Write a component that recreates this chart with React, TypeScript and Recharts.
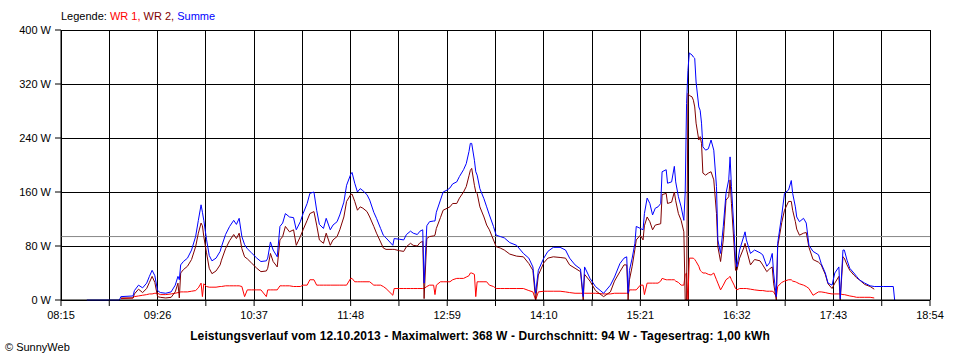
import {
  CartesianGrid,
  Line,
  LineChart,
  ReferenceLine,
  XAxis,
  YAxis,
} from "recharts";

// Zeitpunkte der Messwerte (hh:mm)
const times = [
  "08:34", "08:58", "08:59", "09:08", "09:09", "09:12", "09:15", "09:18", "09:20", "09:22",
  "09:24", "09:26", "09:28", "09:32", "09:36", "09:39", "09:41", "09:42", "09:43", "09:45",
  "09:48", "09:51", "09:54", "09:56", "09:58", "09:59", "10:00", "10:02", "10:04", "10:06",
  "10:09", "10:12", "10:13", "10:16", "10:19", "10:22", "10:24", "10:26", "10:28", "10:30",
  "10:32", "10:35", "10:39", "10:42", "10:46", "10:47", "10:49", "10:51", "10:54", "10:56",
  "10:58", "11:00", "11:03", "11:06", "11:08", "11:11", "11:13", "11:16", "11:18", "11:21",
  "11:23", "11:25", "11:28", "11:30", "11:33", "11:35", "11:38", "11:40", "11:43", "11:45",
  "11:48", "11:49", "11:51", "11:53", "11:55", "11:57", "12:00", "12:02", "12:05", "12:07",
  "12:10", "12:12", "12:14", "12:19", "12:20", "12:24", "12:27", "12:29", "12:32", "12:34",
  "12:37", "12:39", "12:41", "12:42", "12:44", "12:46", "12:49", "12:50", "12:51", "12:54",
  "12:56", "12:59", "13:01", "13:03", "13:06", "13:08", "13:11", "13:13", "13:15", "13:16",
  "13:17", "13:19", "13:20", "13:21", "13:23", "13:26", "13:28", "13:30", "13:33", "13:35",
  "13:38", "13:41", "13:45", "13:50", "13:55", "13:59", "14:02", "14:04", "14:06", "14:10",
  "14:13", "14:17", "14:22", "14:26", "14:29", "14:33", "14:37", "14:39", "14:40", "14:44",
  "14:48", "14:54", "14:59", "15:02", "15:06", "15:09", "15:11", "15:12", "15:13", "15:15",
  "15:17", "15:18", "15:21", "15:23", "15:24", "15:26", "15:28", "15:30", "15:32", "15:34",
  "15:36", "15:37", "15:40", "15:41", "15:44", "15:46", "15:47", "15:49", "15:51", "15:53",
  "15:54", "15:55", "15:56", "15:57", "15:59", "16:00", "16:01", "16:02", "16:04", "16:05",
  "16:06", "16:07", "16:09", "16:11", "16:13", "16:15", "16:17", "16:18", "16:20", "16:22",
  "16:24", "16:26", "16:27", "16:28", "16:30", "16:31", "16:32", "16:34", "16:37", "16:38",
  "16:39", "16:42", "16:45", "16:49", "16:51", "16:54", "16:56", "16:58", "16:59", "17:01",
  "17:02", "17:05", "17:07", "17:10", "17:12", "17:13", "17:15", "17:16", "17:18", "17:21",
  "17:23", "17:25", "17:28", "17:32", "17:34", "17:37", "17:39", "17:42", "17:44", "17:47",
  "17:48", "17:50", "17:51", "17:53", "17:55", "17:58", "18:00", "18:02", "18:06", "18:10",
  "18:13", "18:15", "18:20", "18:27", "18:28",
];

// WR 1 (W)
const wr1 = [
  null, null, 2, 3, 5, 6, 7, 8, 9, 9,
  10, 10, 8, 8, 9, 10, 11, 11, 12, 12,
  12, 13, 14, 18, 25, 5, 24, 20, 19, 19,
  19, 20, 20, 21, 21, 21, 21, 21, 20, 5,
  15, 15, 15, 15, 5, 15, 15, 15, 15, 21,
  21, 21, 21, 20, 20, 20, 22, 22, 30, 30,
  22, 22, 22, 22, 22, 22, 22, 22, 22, 22,
  32, 32, 27, 27, 27, 27, 27, 27, 22, 22,
  22, 20, 17, 7, 17, 17, 17, 17, 17, 17,
  17, 17, 17, 17, 20, 22, 22, 8, 22, 27,
  27, 27, 27, 30, 32, 32, 32, 34, 36, 40,
  40, 38, 5, 27, 27, 27, 27, 22, 20, 17,
  17, 17, 17, 17, 17, 14, 12, 0, 12, 13,
  13, 13, 13, 12, 11, 10, 10, 10, 10, 10,
  10, 9, 9, 10, 10, 10, 10, 10, 15, 15,
  15, 15, 22, 22, 8, 25, 25, 25, 25, 25,
  28, 32, 30, 30, 30, 30, 28, 26, 22, 22,
  38, 40, 0, 62, 62, 62, 60, 57, 50, 44,
  42, 40, 40, 38, 37, 40, 30, 25, 15, 22,
  30, 33, 35, 30, 22, 17, 15, 17, 17, 17,
  17, 16, 15, 14, 14, 13, 13, 13, 12, 5,
  20, 26, 28, 30, 30, 28, 27, 26, 24, 22,
  20, 17, 7, 12, 12, 11, 10, 9, 9, 9,
  9, 8, 8, 7, 6, 5, 4, 4, 4, 4,
  3, null, null, null, null,
];

// WR 2 (W)
const wr2 = [
  null, null, 3, 3, 9, 16, 11, 17, 26, 35,
  26, 5, 4, 3, 4, 12, 25, 3, 40, 45,
  50, 60, 79, 99, 114, 110, 94, 70, 47, 39,
  43, 52, 59, 76, 88, 97, 91, 99, 76, 64,
  61, 55, 47, 42, 43, 47, 69, 57, 49, 89,
  94, 109, 101, 104, 81, 94, 104, 118, 128, 131,
  111, 89, 84, 99, 81, 89, 94, 104, 123, 146,
  156, 157, 146, 133, 138, 136, 131, 123, 109, 99,
  86, 77, 75, 75, 75, 73, 72, 79, 84, 81,
  80, 85, 87, 2, 91, 94, 95, 96, 106, 122,
  133, 136, 138, 143, 143, 151, 160, 168, 184, 192,
  195, 170, 160, 158, 138, 123, 111, 104, 89, 79,
  77, 74, 68, 65, 64, 54, 44, 0, 37, 55,
  62, 64, 63, 62, 52, 47, 42, 0, 38, 28,
  14, 5, 12, 28, 42, 52, 52, 0, 30, 50,
  75, 89, 96, 89, 110, 123, 116, 104, 111, 112,
  113, 156, 158, 143, 145, 160, 147, 128, 118, 101,
  0, 0, 306, 303, 301, 296, 286, 262, 237, 242,
  232, 188, 185, 188, 190, 178, 128, 79, 57, 89,
  148, 153, 178, 143, 79, 44, 44, 62, 77, 84,
  75, 52, 60, 58, 52, 42, 46, 49, 25, 0,
  79, 115, 133, 146, 146, 133, 116, 105, 96, 99,
  100, 78, 60, 56, 52, 38, 24, 17, 25, 35,
  0, 64, 62, 52, 44, 37, 33, 30, 23, 20,
  16, null, null, null, null,
];

// Summe (W)
const summe = [
  0, 0, 5, 6, 14, 22, 18, 25, 35, 44,
  36, 14, 11, 10, 12, 22, 35, 30, 52, 57,
  62, 74, 94, 118, 141, 130, 118, 90, 66, 58,
  62, 72, 79, 97, 109, 118, 112, 121, 94, 82,
  76, 70, 62, 57, 58, 62, 86, 74, 64, 109,
  114, 128, 123, 122, 104, 116, 128, 143, 158, 160,
  133, 112, 106, 121, 104, 111, 116, 126, 145, 170,
  186, 189, 173, 160, 165, 162, 156, 148, 130, 121,
  106, 96, 92, 81, 91, 90, 89, 97, 102, 99,
  97, 102, 104, 25, 110, 116, 117, 117, 130, 148,
  160, 163, 166, 172, 175, 183, 193, 202, 220, 232,
  232, 207, 190, 185, 165, 150, 138, 126, 109, 96,
  94, 92, 85, 81, 69, 62, 49, 10, 44, 62,
  72, 78, 78, 74, 62, 52, 46, 5, 49, 32,
  20, 10, 22, 34, 54, 62, 64, 10, 44, 62,
  84, 109, 106, 104, 128, 151, 143, 126, 136, 138,
  143, 190, 193, 173, 175, 198, 175, 153, 138, 118,
  160, 291, 340, 366, 363, 360, 358, 323, 286, 281,
  262, 227, 222, 224, 237, 222, 168, 89, 69, 109,
  158, 178, 212, 168, 99, 59, 49, 74, 94, 101,
  89, 69, 74, 70, 67, 50, 55, 69, 40, 5,
  84, 126, 158, 163, 177, 158, 138, 123, 116, 121,
  114, 81, 72, 67, 54, 40, 25, 22, 40, 49,
  2, 74, 74, 59, 47, 40, 35, 30, 25, 21,
  20, 20, 20, 20, 0,
];

const xLabels = ["08:15", "09:26", "10:37", "11:48", "12:59", "14:10", "15:21", "16:32", "17:43", "18:54"];
const yTicks = [0, 80, 160, 240, 320, 400];
const durchschnitt = 94;

const toMin = (s: string) => {
  const [h, m] = s.split(":").map(Number);
  return h * 60 + m;
};

const labelMins = xLabels.map(toMin);
// Gitterlinien auch zwischen den beschrifteten Zeiten
const xTicks = labelMins.flatMap((m, i) =>
  i < labelMins.length - 1 ? [m, (m + labelMins[i + 1]) / 2] : [m]
);

const data = times.map((t, i) => ({
  t: toMin(t),
  wr1: wr1[i],
  wr2: wr2[i],
  summe: summe[i],
}));

const font = '"Liberation Sans", Arial, sans-serif';
const tickStyle = { fill: "#000", fontSize: 11, fontFamily: font };

export default function App() {
  return (
    <div
      style={{
        position: "absolute",
        left: 0,
        top: 0,
        width: 960,
        height: 360,
        background: "#fff",
        fontFamily: font,
        fontSize: 11,
        color: "#000",
      }}
    >
      <div style={{ position: "absolute", left: 61, top: 10, lineHeight: "13px", whiteSpace: "nowrap" }}>
        Legende: <span style={{ color: "#ff0000" }}>WR 1,</span>{" "}
        <span style={{ color: "#800000" }}>WR 2,</span>{" "}
        <span style={{ color: "#0000ff" }}>Summe</span>
      </div>

      <LineChart
        width={960}
        height={360}
        data={data}
        margin={{ top: 30, right: 30, bottom: 36, left: 0 }}
      >
        <CartesianGrid stroke="#000" strokeWidth={1} shapeRendering="crispEdges" />
        <XAxis
          dataKey="t"
          type="number"
          domain={[labelMins[0], labelMins[labelMins.length - 1]]}
          ticks={xTicks}
          interval={0}
          tickFormatter={(v: number) => {
            const i = labelMins.indexOf(v);
            return i >= 0 ? xLabels[i] : "";
          }}
          height={24}
          tickSize={6}
          tickMargin={5}
          tick={tickStyle}
          axisLine={{ stroke: "#000" }}
          tickLine={{ stroke: "#000" }}
        />
        <YAxis
          domain={[0, 400]}
          ticks={yTicks}
          interval={0}
          width={61}
          tickFormatter={(v: number) => `${v} W`}
          tickSize={6}
          tickMargin={4}
          tick={tickStyle}
          axisLine={{ stroke: "#000" }}
          tickLine={{ stroke: "#000" }}
        />
        <ReferenceLine y={durchschnitt} stroke="#888" strokeWidth={1} />
        <Line
          dataKey="wr1"
          type="linear"
          stroke="#ff0000"
          strokeWidth={1}
          dot={false}
          activeDot={false}
          isAnimationActive={false}
        />
        <Line
          dataKey="wr2"
          type="linear"
          stroke="#800000"
          strokeWidth={1}
          dot={false}
          activeDot={false}
          isAnimationActive={false}
        />
        <Line
          dataKey="summe"
          type="linear"
          stroke="#0000ff"
          strokeWidth={1}
          dot={false}
          activeDot={false}
          isAnimationActive={false}
        />
      </LineChart>

      <div
        style={{
          position: "absolute",
          left: 0,
          width: 960,
          top: 329,
          lineHeight: "14px",
          fontSize: 12,
          letterSpacing: 0.1,
          textAlign: "center",
          fontWeight: "bold",
          whiteSpace: "nowrap",
        }}
      >
        Leistungsverlauf vom 12.10.2013 - Maximalwert: 368 W - Durchschnitt: 94 W - Tagesertrag: 1,00 kWh
      </div>
      <div style={{ position: "absolute", left: 5, top: 341, lineHeight: "13px" }}>© SunnyWeb</div>
    </div>
  );
}
